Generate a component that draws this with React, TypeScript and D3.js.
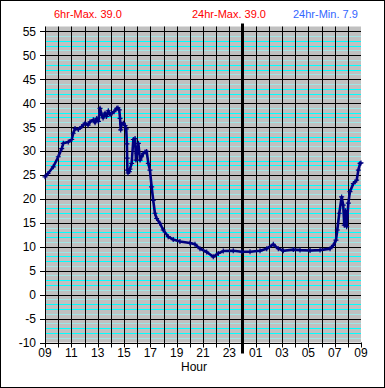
import React, { useEffect, useRef } from "react";
import * as d3 from "d3";

// readings: hours since 09:00, temperature
const obsHours = [
  0, 0.23, 0.63, 1.01, 1.27, 1.39, 1.77, 2.03, 2.15, 2.28, 2.53, 2.79, 3.04, 3.27, 3.42, 3.67, 3.8, 3.93,
  4.06, 4.18, 4.31, 4.41, 4.56, 4.67, 4.81, 4.94, 5.07, 5.24, 5.45, 5.54, 5.64, 5.7, 5.75, 5.81, 5.95,
  6.08, 6.17, 6.22, 6.24, 6.26, 6.3, 6.4, 6.45, 6.58, 6.71, 6.84, 6.91, 6.99, 7.09, 7.22, 7.34, 7.47,
  7.6, 7.72, 7.85, 7.97, 8.1, 8.22, 8.35, 8.48, 8.73, 8.98, 9.36, 9.74, 10.25, 11.01, 11.39, 11.77,
  12.28, 12.78, 13.16, 13.54, 14.3, 14.94, 15.57, 16.33, 16.84, 17.34, 17.72, 18.1, 18.86, 19.37,
  20.13, 20.89, 21.65, 21.9, 22.1, 22.2, 22.35, 22.53, 22.65, 22.73, 22.82, 22.91, 23.04, 23.16,
  23.42, 23.67, 23.8, 23.93, 24,
];
const obsTemps = [
  24.6, 25.3, 26.7, 28.8, 30.5, 31.6, 31.9, 32.4, 33.7, 34.7, 34.5, 35.1, 35.8, 35.4, 36.1, 36.5, 35.9, 36.8,
  36.2, 38.9, 37.5, 36.9, 37.9, 37.2, 38.4, 37.6, 37.9, 38.2, 38.9, 39.0, 38.6, 36.8, 34.4, 35.6, 35.8,
  35.3, 34.6, 31.5, 28.5, 26.0, 25.4, 25.7, 26.2, 27.4, 32.4, 32.6, 28.1, 29.5, 31.6, 28.1, 28.8, 29.5,
  29.8, 29.9, 27.4, 26.0, 22.5, 19.7, 17.0, 15.9, 14.9, 13.5, 12.1, 11.5, 11.1, 10.8, 10.5, 9.6,
  8.9, 7.9, 8.6, 9.1, 9.15, 8.95, 8.95, 9.15, 9.6, 10.5, 9.6, 9.15, 9.4, 9.3,
  9.2, 9.3, 9.6, 10.3, 11.4, 13.5, 17.0, 20.4, 18.7, 14.5, 17.5, 14.2, 19.1, 21.5,
  23.2, 23.9, 26.0, 27.4, 27.5,
];

const yTicks = [-10, -5, 0, 5, 10, 15, 20, 25, 30, 35, 40, 45, 50, 55];
const hourTickLabels = ["09", "11", "13", "15", "17", "19", "21", "23", "01", "03", "05", "07", "09"];
const headerLabels = ["6hr-Max. 39.0", "24hr-Max. 39.0", "24hr-Min. 7.9"];
const headerColors = ["#ff0000", "#ff0000", "#3366ff"];
const midnightHour = 15;

const W = 385, H = 388;
const margin = { l: 45, r: 24, t: 26.5, b: 45.5 };
const font = "'Liberation Sans', Arial, sans-serif";

export default function App() {
  const ref = useRef<SVGSVGElement>(null);

  useEffect(() => {
    const svg = d3.select(ref.current);
    svg.selectAll("*").remove();

    const x = d3.scaleLinear().domain([0, 24]).range([margin.l, W - margin.r]);
    const y = d3.scaleLinear().domain([-10, 56]).range([H - margin.b, margin.t]);

    // frame
    svg.append("rect").attr("x", 0.5).attr("y", 0.5).attr("width", W - 1).attr("height", H - 1)
      .attr("fill", "#fff").attr("stroke", "#000");

    // plot background
    svg.append("rect")
      .attr("x", x(0)).attr("y", y(56)).attr("width", x(24) - x(0)).attr("height", y(-10) - y(56))
      .attr("fill", "#c0c0c0");

    // minor horizontal lines every degree
    const minor = d3.range(-9, 56).filter((v) => v % 5 !== 0);
    svg.append("g").selectAll("line").data(minor).enter().append("line")
      .attr("x1", x(0)).attr("x2", x(24))
      .attr("y1", (d) => Math.round(y(d)) + 0.5).attr("y2", (d) => Math.round(y(d)) + 0.5)
      .attr("stroke", (d) => (Math.abs(d % 5) === 1 || Math.abs(d % 5) === 4 ? "#9fe6e6" : "#00ffff"));

    // major horizontal lines
    svg.append("g").selectAll("line").data(yTicks).enter().append("line")
      .attr("x1", x(0) - 5).attr("x2", x(24))
      .attr("y1", (d) => Math.round(y(d)) + 0.5).attr("y2", (d) => Math.round(y(d)) + 0.5)
      .attr("stroke", "#000");

    // hour lines + ticks
    svg.append("g").selectAll("line").data(d3.range(0, 25)).enter().append("line")
      .attr("x1", (d) => Math.round(x(d)) + 0.5).attr("x2", (d) => Math.round(x(d)) + 0.5)
      .attr("y1", (d) => (d === 24 ? y(-10) : y(56))).attr("y2", y(-10) + 5)
      .attr("stroke", "#000");

    // midnight marker
    svg.append("line")
      .attr("x1", x(midnightHour)).attr("x2", x(midnightHour))
      .attr("y1", y(56) - 3).attr("y2", y(-10) + 11)
      .attr("stroke", "#000").attr("stroke-width", 3);

    // y labels
    svg.append("g").selectAll("text").data(yTicks).enter().append("text")
      .attr("x", 36).attr("y", (d) => y(d) + 4.5)
      .attr("text-anchor", "end")
      .style("font-family", font).style("font-size", "12px")
      .text((d) => d);

    // x labels
    svg.append("g").selectAll("text").data(hourTickLabels).enter().append("text")
      .attr("x", (d, i) => x(i * 2)).attr("y", y(-10) + 14)
      .attr("text-anchor", "middle")
      .style("font-family", font).style("font-size", "12px")
      .text((d) => d);

    svg.append("text").text("Hour")
      .attr("x", 194).attr("y", 370.5).attr("text-anchor", "middle")
      .style("font-family", font).style("font-size", "12px");

    // header
    const headerX = [54, 192, 293];
    svg.append("g").selectAll("text").data(headerLabels).enter().append("text")
      .attr("x", (d, i) => headerX[i]).attr("y", 18)
      .attr("fill", (d, i) => headerColors[i])
      .style("font-family", font).style("font-size", "11px")
      .text((d) => d);

    // temperature trace
    const pts: [number, number][] = obsHours.map((h, i) => [h, obsTemps[i]]);
    const line = d3.line<[number, number]>().x((d) => x(d[0])).y((d) => y(d[1]));
    svg.append("path").datum(pts).attr("d", line)
      .attr("fill", "none").attr("stroke", "#000080").attr("stroke-width", 2.6)
      .attr("stroke-linejoin", "round");

    svg.append("g").selectAll("path").data(pts).enter().append("path")
      .attr("transform", (d) => `translate(${x(d[0])},${y(d[1])})`)
      .attr("d", "M-2.5,0H2.5M0,-2.5V2.5")
      .attr("stroke", "#000080").attr("stroke-width", 1.2);
  }, []);

  return (
    <svg ref={ref} width={W} height={H} style={{ position: "absolute", left: 0, top: 0 }} />
  );
}
